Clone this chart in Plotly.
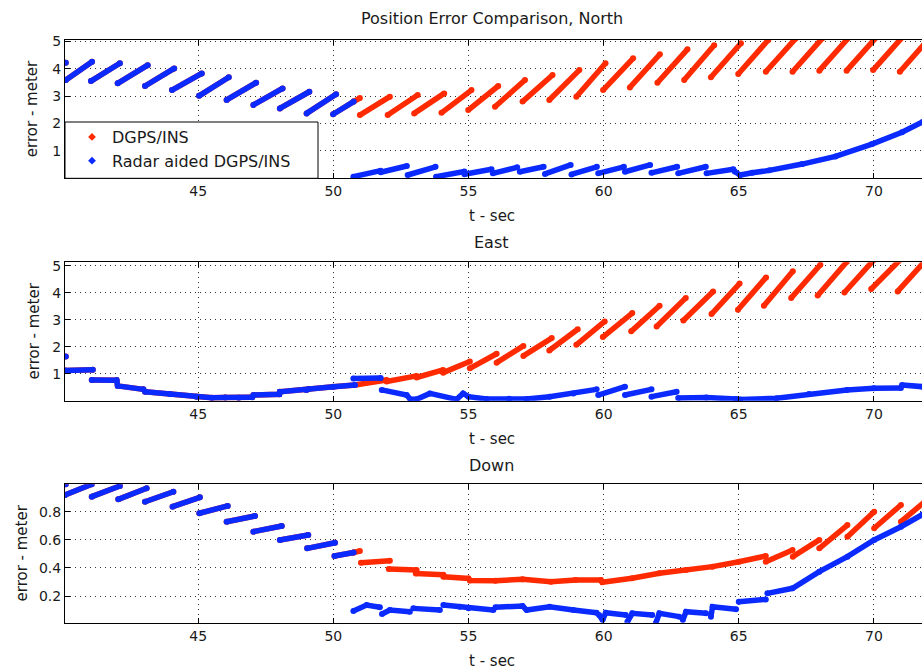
import plotly.graph_objects as go

RED = "#ff2a00"
BLUE = "#0a2aff"

# ---------------- data ----------------
x_ticks = [45, 50, 55, 60, 65, 70]

# North: before ~50.75 s both filters coincide
north_shared_x = [40.10, None, 40.10, 41.07, None, 41.03, 42.10, None, 42.02, 43.13, None, 43.03, 44.11, None,
                  44.03, 45.13, None, 45.03, 46.13, None, 46.05, 47.14, None, 47.04, 48.12, None, 48.02, 49.11, None,
                  49.01, 50.10, None, 49.99, 50.75]
north_shared_y = [4.22, None, 3.59, 4.26, None, 3.55, 4.20, None, 3.47, 4.13, None, 3.37, 4.01, None,
                  3.22, 3.83, None, 3.01, 3.69, None, 2.86, 3.49, None, 2.68, 3.28, None, 2.55, 3.16, None,
                  2.37, 3.07, None, 2.34, 2.80]
north_red_x = [50.75, 50.98, None, 50.98, 52.09, None, 52.01, 53.12, None, 52.99, 54.10, None, 54.00, 55.11, None,
               54.99, 56.10, None, 55.98, 57.09, None, 57.00, 58.11, None, 57.99, 59.10, None, 58.99, 60.07, None,
               59.98, 61.09, None, 60.97, 62.08, None, 61.99, 63.10, None, 62.98, 64.09, None, 63.97, 65.08, None,
               64.98, 66.09, None, 66.00, 67.10, None, 66.99, 68.09, None, 67.98, 69.08, None, 68.99, 70.09, None,
               69.97, 71.07, None, 70.96, 72.06]
north_red_y = [2.80, 2.93, None, 2.31, 2.98, None, 2.31, 3.04, None, 2.37, 3.10, None, 2.39, 3.22, None,
               2.49, 3.37, None, 2.61, 3.59, None, 2.80, 3.77, None, 2.86, 3.95, None, 2.98, 4.20, None,
               3.22, 4.38, None, 3.32, 4.53, None, 3.49, 4.71, None, 3.59, 4.86, None, 3.69, 4.93, None,
               3.81, 5.05, None, 3.89, 5.10, None, 3.89, 5.11, None, 3.93, 5.15, None, 3.93, 5.15, None,
               3.95, 5.17, None, 3.89, 5.12]
north_blue_x = [50.74, 51.75, None, 51.75, 52.72, None, 52.75, 53.78, None, 53.80, 54.85, None, 54.85, 55.85, None,
                55.90, 56.80, None, 56.90, 57.78, None, 57.83, 58.78, None, 58.81, 59.75, None, 59.80, 60.75, None,
                60.79, 61.72, None, 61.77, 62.72, None, 62.76, 63.78, None, 63.81, 64.80, None,
                64.85, 65.05, 65.50, 66.13, 67.35, 68.58, 69.93, 71.04, 71.80]
north_blue_y = [0.06, 0.28, None, 0.22, 0.45, None, 0.12, 0.42, None, 0.06, 0.25, None, 0.15, 0.33, None,
                0.18, 0.40, None, 0.24, 0.42, None, 0.16, 0.49, None, 0.14, 0.42, None, 0.18, 0.42, None,
                0.24, 0.49, None, 0.20, 0.42, None, 0.18, 0.42, None, 0.18, 0.33, None,
                0.25, 0.12, 0.20, 0.29, 0.52, 0.80, 1.25, 1.68, 2.06]

# East
east_shared_x = [40.10, None, 40.07, 41.10, None, 41.06, 41.98, 42.02, 42.97, None, 43.03, 43.95, 44.93, 45.50,
                 46.00, 46.50, 47.00, None, 47.04, 48.00, 48.02, 49.00, 49.07, 50.00, 50.80]
east_shared_y = [1.64, None, 1.12, 1.15, None, 0.77, 0.76, 0.55, 0.42, None, 0.33, 0.25, 0.15, 0.11,
                 0.12, 0.11, 0.13, None, 0.21, 0.24, 0.33, 0.40, 0.42, 0.52, 0.58]
east_red_x = [50.80, 51.97, None, 51.97, 53.08, None, 53.08, 54.06, None, 54.06, 55.05, None, 55.05, 56.04, None,
              56.04, 57.03, None, 57.03, 58.08, None, 57.99, 59.04, None, 58.99, 60.04, None, 59.97, 61.06, None,
              61.02, 62.07, None, 61.96, 63.04, None, 62.95, 64.05, None, 63.99, 65.03, None, 64.97, 66.01, None,
              65.93, 67.00, None, 66.94, 68.02, None, 67.92, 69.00, None, 68.91, 70.00, None, 69.90, 71.00, None,
              70.88, 72.00]
east_red_y = [0.58, 0.77, None, 0.71, 0.92, None, 0.86, 1.14, None, 1.04, 1.45, None, 1.20, 1.74, None,
              1.41, 2.03, None, 1.66, 2.32, None, 1.86, 2.65, None, 2.07, 2.94, None, 2.36, 3.25, None,
              2.57, 3.52, None, 2.75, 3.81, None, 2.97, 4.05, None, 3.21, 4.34, None, 3.37, 4.57, None,
              3.52, 4.80, None, 3.81, 5.04, None, 3.90, 5.15, None, 4.01, 5.22, None, 4.14, 5.25, None,
              4.05, 5.30]
east_blue_x = [50.74, 51.75, None,
               51.79, 52.71, 52.85, 53.08, 53.57, 54.56, 54.80, 55.00, 55.67, 56.50, 57.15, 58.00, 58.88, 59.74, None,
               59.80, 60.79, None, 60.79, 61.77, None, 61.77, 62.70, None,
               62.76, 63.80, 64.90, 65.05, 66.40, 67.60, 69.00, 70.00, 71.00, None, 71.04, 71.80]
east_blue_y = [0.82, 0.84, None,
               0.40, 0.21, 0.05, 0.05, 0.27, 0.05, 0.27, 0.15, 0.06, 0.07, 0.06, 0.15, 0.27, 0.42, None,
               0.21, 0.52, None, 0.21, 0.42, None, 0.15, 0.33, None,
               0.10, 0.12, 0.06, 0.04, 0.09, 0.25, 0.40, 0.46, 0.47, None, 0.58, 0.52]

# Down
down_shared_x = [40.10, None, 40.07, 41.06, None, 41.06, 42.10, None, 42.04, 43.09, None, 43.03, 44.08, None,
                 44.05, 45.06, None, 45.04, 46.09, None, 46.05, 47.10, None, 47.04, 48.09, None, 48.02, 49.07, None,
                 49.03, 50.06, None, 50.04, 50.75]
down_shared_y = [0.995, None, 0.919, 0.995, None, 0.907, 0.983, None, 0.888, 0.967, None, 0.871, 0.942, None,
                 0.836, 0.902, None, 0.789, 0.841, None, 0.729, 0.769, None, 0.658, 0.698, None, 0.599, 0.634, None,
                 0.539, 0.579, None, 0.485, 0.510]
down_red_x = [50.75, 50.98, None, 51.02, 52.09, None, 52.05, 53.08, None, 53.05, 54.07, None,
              54.07, 55.00, 55.05, 56.00, 57.00, 58.05, 58.96, 59.90, 59.95, 61.05, 62.06, 63.05, 64.03, 65.01, 66.00,
              None, 66.00, 66.99, None, 67.00, 67.98, None, 67.98, 69.02, None, 69.02, 70.01, None, 70.01, 71.00,
              None, 71.00, 72.00]
down_red_y = [0.510, 0.520, None, 0.437, 0.451, None, 0.392, 0.385, None, 0.360, 0.352, None,
              0.337, 0.325, 0.310, 0.309, 0.319, 0.302, 0.314, 0.314, 0.298, 0.326, 0.362, 0.385, 0.409, 0.444, 0.485,
              None, 0.444, 0.527, None, 0.480, 0.599, None, 0.539, 0.705, None, 0.622, 0.800, None, 0.682, 0.848,
              None, 0.729, 0.890]
down_blue_x = [50.74, 51.23, 51.72, None, 51.80, 52.09, 52.83, None, 52.96, 53.94, None, 54.07, 54.68, 55.00, 55.92,
               None, 56.00, 57.00, 57.15, 58.00, 58.88, 59.74, None, 59.83, 59.96, 60.08, 60.82, None,
               60.88, 61.06, 61.80, None, 61.93, 62.06, 62.80, None, 62.93, 63.05, 63.79, None,
               63.97, 64.03, 64.90, None, 65.00, 66.00, None, 66.06, 66.99, 67.98, 69.02, 70.01, 71.00, 71.80]
down_blue_y = [0.093, 0.136, 0.120, None, 0.072, 0.100, 0.088, None, 0.112, 0.100, None, 0.136, 0.124, 0.112, 0.100,
               None, 0.120, 0.129, 0.100, 0.124, 0.100, 0.081, None, 0.065, 0.029, 0.081, 0.065, None,
               0.017, 0.077, 0.065, None, 0.006, 0.077, 0.053, None, 0.029, 0.088, 0.077, None,
               0.053, 0.124, 0.105, None, 0.159, 0.176, None, 0.219, 0.255, 0.373, 0.480, 0.599, 0.693, 0.780]

panels = [
    dict(title="Position Error Comparison, North", shared=(north_shared_x, north_shared_y),
         red=(north_red_x, north_red_y), blue=(north_blue_x, north_blue_y),
         yrange=[0, 5.05], yticks=[1, 2, 3, 4, 5], ylabels=["1", "2", "3", "4", "5"],
         top=40.0, bottom=178.3, title_y=18, ylab_x=32),
    dict(title="East", shared=(east_shared_x, east_shared_y),
         red=(east_red_x, east_red_y), blue=(east_blue_x, east_blue_y),
         yrange=[0, 5.13], yticks=[1, 2, 3, 4, 5], ylabels=["1", "2", "3", "4", "5"],
         top=262.3, bottom=400.7, title_y=242.5, ylab_x=33),
    dict(title="Down", shared=(down_shared_x, down_shared_y),
         red=(down_red_x, down_red_y), blue=(down_blue_x, down_blue_y),
         yrange=[0.01, 0.995], yticks=[0.2, 0.4, 0.6, 0.8], ylabels=["0.2", "0.4", "0.6", "0.8"],
         top=484.3, bottom=622.7, title_y=465, ylab_x=21),
]

# ---------------- figure ----------------
W, H = 922, 671
LEFT = 65
FONT = "DejaVu Sans, Liberation Sans, Arial, sans-serif"
TXT = "#1a1a1a"

fig = go.Figure()
layout = dict(width=W, height=H, margin=dict(l=0, r=0, t=0, b=0),
              paper_bgcolor="white", plot_bgcolor="white", font=dict(family=FONT, color=TXT, size=14))
annotations = []

for i, p in enumerate(panels):
    n = "" if i == 0 else str(i + 1)
    xa, ya = "x" + n, "y" + n
    sx, sy = p["shared"]
    rx, ry = p["red"]
    bx, by = p["blue"]
    fig.add_trace(go.Scatter(x=sx + [None] + rx, y=sy + [None] + ry, mode="lines+markers",
                             line=dict(color=RED, width=5.5), marker=dict(color=RED, size=6),
                             xaxis=xa, yaxis=ya, showlegend=False, hoverinfo="skip", legendgroup="r"))
    fig.add_trace(go.Scatter(x=sx + [None] + bx, y=sy + [None] + by, mode="lines+markers",
                             line=dict(color=BLUE, width=5.5), marker=dict(color=BLUE, size=6),
                             xaxis=xa, yaxis=ya, showlegend=False, hoverinfo="skip", legendgroup="b"))
    dom_y = [1 - p["bottom"] / H, 1 - p["top"] / H]
    common = dict(showline=True, linecolor="black", linewidth=1, ticks="inside", ticklen=5, tickcolor="black",
                  showgrid=True, gridcolor="#333333", griddash="1px,4px", gridwidth=1, zeroline=False,
                  tickfont=dict(family=FONT, size=14, color=TXT), automargin=False)
    layout["xaxis" + n] = dict(domain=[LEFT / W, 1.0], range=[40.07, 71.78], tickvals=x_ticks,
                               ticktext=[str(v) for v in x_ticks], anchor=ya, mirror="ticks", **common)
    layout["yaxis" + n] = dict(domain=dom_y, range=p["yrange"], tickvals=p["yticks"], ticktext=p["ylabels"],
                               anchor=xa, mirror=False, **common)
    annotations.append(dict(text=p["title"], x=492 / W, y=1 - p["title_y"] / H, xref="paper", yref="paper",
                            xanchor="center", yanchor="middle", showarrow=False,
                            font=dict(family=FONT, size=16, color=TXT)))
    annotations.append(dict(text="t - sec", x=492 / W, y=1 - (p["bottom"] + 38) / H, xref="paper",
                            yref="paper", xanchor="center", yanchor="middle", showarrow=False,
                            font=dict(family=FONT, size=15, color=TXT)))
    annotations.append(dict(text="error - meter", x=p["ylab_x"] / W, y=1 - (p["top"] + p["bottom"]) / 2 / H,
                            xref="paper", yref="paper", xanchor="center", yanchor="middle", textangle=-90,
                            showarrow=False, font=dict(family=FONT, size=15, color=TXT)))

# legend entries
fig.add_trace(go.Scatter(x=[None], y=[None], mode="markers", name="DGPS/INS", legendgroup="r",
                         marker=dict(color=RED, size=6, symbol="diamond")))
fig.add_trace(go.Scatter(x=[None], y=[None], mode="markers", name="Radar aided DGPS/INS", legendgroup="b",
                         marker=dict(color=BLUE, size=6, symbol="diamond")))

layout["annotations"] = annotations
layout["shapes"] = [dict(type="rect", xref="paper", yref="paper", x0=LEFT / W, x1=318 / W,
                         y0=1 - 178.3 / H, y1=1 - 122 / H, fillcolor="white", line=dict(color="black", width=1),
                         layer="above")]
layout["legend"] = dict(x=72 / W, y=1 - 120 / H, xanchor="left", yanchor="top", bgcolor="rgba(0,0,0,0)",
                        borderwidth=0, tracegroupgap=0, font=dict(family=FONT, size=16, color=TXT))
fig.update_layout(**layout)
fig.write_html("out.html", config={"displayModeBar": False, "staticPlot": True},
               post_script="document.body.style.margin='0px';document.body.style.overflow='hidden';")
